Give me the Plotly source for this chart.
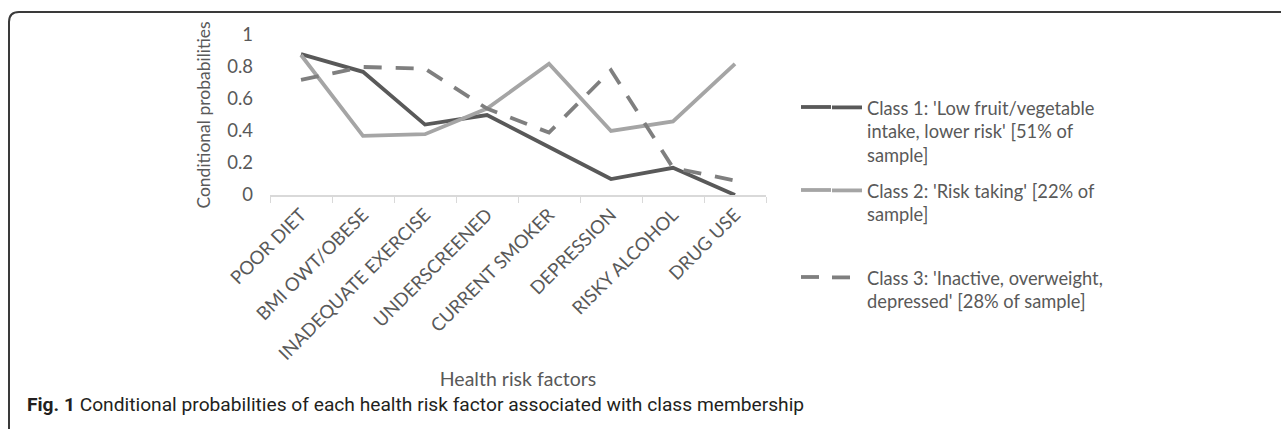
import plotly.graph_objects as go

categories = ["POOR DIET", "BMI OWT/OBESE", "INADEQUATE EXERCISE", "UNDERSCREENED",
              "CURRENT SMOKER", "DEPRESSION", "RISKY ALCOHOL", "DRUG USE"]
class1 = [0.88, 0.77, 0.44, 0.50, 0.30, 0.10, 0.17, 0.00]
class2 = [0.875, 0.37, 0.38, 0.54, 0.82, 0.40, 0.46, 0.82]
class3 = [0.72, 0.80, 0.79, 0.54, 0.39, 0.78, 0.17, 0.09]
names = ["Class 1: 'Low fruit/vegetable<br>intake, lower risk' [51% of<br>sample]",
         "Class 2: 'Risk taking' [22% of<br>sample]",
         "Class 3: 'Inactive, overweight,<br>depressed' [28% of sample]"]
y_ticks = [0, 0.2, 0.4, 0.6, 0.8, 1]
y_ticktext = ["0", "0.2", "0.4", "0.6", "0.8", "1"]

W, H = 1281, 429
L, R, T, B = 270, 766, 35, 195  # plot area in pixels


def px(x):
    return (x - L) / (R - L)


def py(y):
    return (B - y) / (B - T)


FONT = "Lato"
GRAY = "#595959"
colors = ["#595959", "#a5a5a5", "#7f7f7f"]
dashes = ["solid", "solid", "18px,14px"]
legend_ids = ["legend", "legend2", "legend3"]
legend_y = [89, 172, 259]
swatch_y = [107, 190, 277]
LW = 3.8

fig = go.Figure()
for vals, name, c, d, lg in zip([class1, class2, class3], names, colors, dashes, legend_ids):
    fig.add_trace(go.Scatter(x=categories, y=vals, mode="lines", name=name,
                             line=dict(color=c, width=LW, dash=d), legend=lg))

shapes = []
# legend swatch extensions (Excel legend keys are longer than plotly's)
for c, sy, d in zip(colors, swatch_y, dashes):
    x1 = 819 if d != "solid" else 831
    shapes.append(dict(type="line", xref="paper", yref="paper",
                       x0=px(801), x1=px(x1), y0=py(sy), y1=py(sy),
                       line=dict(color=c, width=LW)))

# rounded border
path = (f"M {px(9)},{py(440)} L {px(9)},{py(22)} "
        f"Q {px(9)},{py(12)} {px(19)},{py(12)} L {px(1300)},{py(12)}")
shapes.append(dict(type="path", xref="paper", yref="paper", path=path,
                   line=dict(color="#3a3a3a", width=2)))

legend_common = dict(font=dict(family=FONT, size=18.3, color=GRAY), bgcolor="rgba(0,0,0,0)",
                     xanchor="left", yanchor="top", valign="top", borderwidth=0)
layout_legends = {}
for lg, ly in zip(legend_ids, legend_y):
    layout_legends[lg] = dict(x=px(827), y=py(ly), **legend_common)

fig.update_layout(
    width=W, height=H,
    margin=dict(l=L, r=W - R, t=T, b=H - B, autoexpand=False),
    paper_bgcolor="white", plot_bgcolor="white",
    font=dict(family=FONT, size=18, color=GRAY),
    xaxis=dict(type="category", range=[-0.5, 7.5], showline=True, linecolor="#d9d9d9",
               linewidth=1.5, ticks="outside", tickson="boundaries", ticklen=6,
               tickcolor="#d9d9d9", tickangle=-45, showgrid=False, zeroline=False,
               tickfont=dict(family=FONT, size=18.5, color=GRAY),
               title=dict(text="Health risk factors", standoff=9,
                          font=dict(family=FONT, size=19.5, color=GRAY))),
    yaxis=dict(range=[0, 1], tickvals=y_ticks, ticktext=y_ticktext, showline=False,
               showgrid=False, zeroline=False, ticks="", ticklabelstandoff=16,
               tickfont=dict(family=FONT, size=18.5, color=GRAY),
               title=dict(text="Conditional probabilities", standoff=12,
                          font=dict(family=FONT, size=17.5, color=GRAY))),
    shapes=shapes,
    showlegend=True,
    annotations=[dict(xref="paper", yref="paper", x=px(25), y=py(404), xanchor="left",
                      yanchor="middle", showarrow=False,
                      text="<b>Fig. 1</b> Conditional probabilities of each health risk factor associated with class membership",
                      font=dict(family="Roboto", size=19.2, color="#231f20"))],
    **layout_legends,
)

fig.write_html("out.html", config={"displayModeBar": False},
               post_script="document.body.style.margin='0';document.body.style.overflow='hidden';")
